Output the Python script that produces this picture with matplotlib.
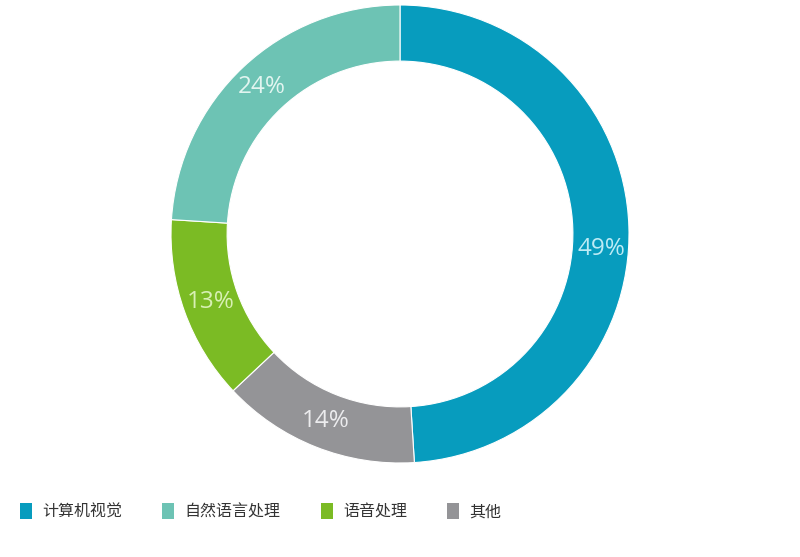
import numpy as np
import matplotlib.pyplot as plt
from matplotlib.patches import Patch

plt.rcParams['font.family'] = ['Open Sans', 'Noto Sans CJK SC', 'DejaVu Sans']

# data, drawn clockwise from the top
ring_labels = ['计算机视觉', '其他', '语音处理', '自然语言处理']
ring_values = [49, 14, 13, 24]
ring_colors = ['#079cbe', '#949497', '#7bbb24', '#6dc3b4']
pct_colors = ['#bdebf5', '#ececee', '#d8f0b4', '#e2f5f0']

legend_labels = ['计算机视觉', '自然语言处理', '语音处理', '其他']
legend_colors = ['#079cbe', '#6dc3b4', '#7bbb24', '#949497']

fig = plt.figure(figsize=(8, 5.57), dpi=100)
ax = fig.add_axes([171 / 800, (557 - 463) / 557, 458 / 800, 458 / 557])

wedges, texts, autotexts = ax.pie(
    ring_values, colors=ring_colors, startangle=90, counterclock=False,
    radius=1.0, autopct='%d%%', pctdistance=0.88,
    wedgeprops=dict(width=0.245, edgecolor='white', linewidth=0.8),
)
# small angular nudge for the label positions (degrees)
nudge = [-6, 0, 0, 0]
for t, c, d in zip(autotexts, pct_colors, nudge):
    t.set_color(c)
    t.set_fontsize(17.5)
    x, y = t.get_position()
    a = np.deg2rad(d)
    t.set_position((x * np.cos(a) - y * np.sin(a), x * np.sin(a) + y * np.cos(a)))

ax.set_xlim(-1, 1)
ax.set_ylim(-1, 1)
ax.axis('off')

handles = [Patch(facecolor=c, edgecolor='none') for c in legend_colors]
leg = fig.legend(handles, legend_labels, loc='center left',
                 bbox_to_anchor=(20 / 800, 1 - 512 / 557), ncol=4,
                 frameon=False, fontsize=11.5, handlelength=0.75, handleheight=1.15,
                 handletextpad=0.65, columnspacing=2.5, borderpad=0, borderaxespad=0)
for t in leg.get_texts():
    t.set_color('#333333')

fig.savefig('out.png', dpi=100)
